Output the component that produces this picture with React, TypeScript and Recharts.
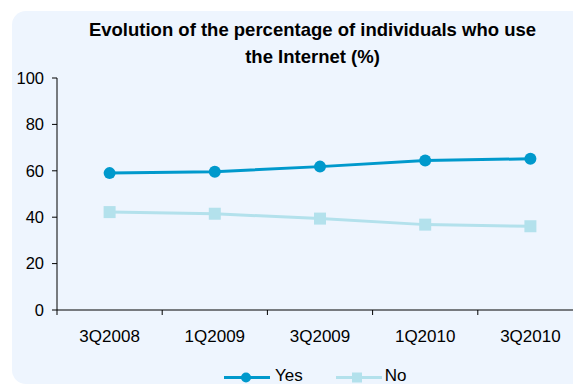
import React from "react";
import { LineChart, Line, XAxis, YAxis } from "recharts";

const quarters = ["3Q2008", "1Q2009", "3Q2009", "1Q2010", "3Q2010"];
const yesValues = [59, 59.6, 61.8, 64.4, 65.2];
const noValues = [42.2, 41.5, 39.4, 36.8, 36.1];
const yTicks = [0, 20, 40, 60, 80, 100];

const YES_COLOR = "#0099CC";
const NO_COLOR = "#B3E1EC";
const FONT = "'Liberation Sans', Arial, sans-serif";

const data = quarters.map((q, i) => ({ q, yes: yesValues[i], no: noValues[i] }));

// the plot area runs past the right edge of the picture, as in the original
const CHART_W = 600;
const PLOT_LEFT = 57;
const PLOT_RIGHT = 583;
const BAND = (PLOT_RIGHT - PLOT_LEFT) / quarters.length;

// square marker for the "No" series
const SquareDot = (props: any) => {
  const { cx, cy } = props;
  if (cx == null || cy == null) return null;
  return <rect x={cx - 6} y={cy - 6} width={12} height={12} fill={NO_COLOR} />;
};

// label at the band centre, tick mark at the band boundary
const XTick = (props: any) => {
  const { x, y, payload, index } = props;
  const axisY = y - 19.5;
  const last = index === quarters.length - 1;
  return (
    <g>
      <line x1={x - BAND / 2} y1={axisY} x2={x - BAND / 2} y2={axisY + 5} stroke="#000" />
      {last && <line x1={x + BAND / 2} y1={axisY} x2={x + BAND / 2} y2={axisY + 5} stroke="#000" />}
      <text x={x} y={y} dy="0.71em" textAnchor="middle" fill="#000" fontSize={17} fontFamily={FONT}>
        {payload.value}
      </text>
    </g>
  );
};

const ChartLegend = () => (
  <div
    style={{
      position: "absolute",
      left: 224,
      top: 367,
      display: "flex",
      fontFamily: FONT,
      fontSize: 17,
      lineHeight: "17px",
      color: "#000",
    }}
  >
    <svg width={46} height={17}>
      <line x1={0} y1={10.5} x2={46} y2={10.5} stroke={YES_COLOR} strokeWidth={3} />
      <circle cx={22} cy={10.5} r={5} fill={YES_COLOR} />
    </svg>
    <span style={{ marginLeft: 5, marginRight: 33 }}>Yes</span>
    <svg width={46} height={17}>
      <line x1={0} y1={10.5} x2={46} y2={10.5} stroke={NO_COLOR} strokeWidth={3} />
      <rect x={16} y={5.5} width={10} height={10} fill={NO_COLOR} />
    </svg>
    <span style={{ marginLeft: 3 }}>No</span>
  </div>
);

export default function App() {
  return (
    <div style={{ position: "absolute", left: 0, top: 0, width: 573, height: 385, overflow: "hidden", background: "#fff" }}>
      <div
        style={{
          position: "absolute",
          left: 12,
          top: 11,
          width: 600,
          height: 373,
          borderRadius: 14,
          background: "#EEF5FE",
        }}
      />
      <div
        style={{
          position: "absolute",
          left: 0,
          width: 625,
          top: 17,
          textAlign: "center",
          fontFamily: FONT,
          fontWeight: "bold",
          fontSize: 18.5,
          lineHeight: "26.5px",
        }}
      >
        Evolution of the percentage of individuals who use
        <br />
        the Internet (%)
      </div>
      <div style={{ position: "absolute", left: 0, top: 0 }}>
        <LineChart width={CHART_W} height={385} data={data} margin={{ top: 78, right: CHART_W - PLOT_RIGHT, bottom: 0, left: 0 }}>
          <XAxis
            dataKey="q"
            axisLine={{ stroke: "#000" }}
            tickLine={false}
            tick={<XTick />}
            tickSize={5}
            tickMargin={14.5}
            padding={{ left: BAND / 2, right: BAND / 2 }}
            interval={0}
            height={75}
          />
          <YAxis
            domain={[0, 100]}
            ticks={yTicks}
            axisLine={{ stroke: "#000" }}
            tickLine={{ stroke: "#000" }}
            tick={{ fill: "#000", fontSize: 16.5, fontFamily: FONT }}
            tickSize={5}
            tickMargin={8}
            width={PLOT_LEFT}
          />
          <Line
            dataKey="no"
            name="No"
            stroke={NO_COLOR}
            strokeWidth={3}
            dot={<SquareDot />}
            isAnimationActive={false}
          />
          <Line
            dataKey="yes"
            name="Yes"
            stroke={YES_COLOR}
            strokeWidth={3}
            dot={{ r: 6, fill: YES_COLOR, stroke: YES_COLOR, strokeWidth: 0 }}
            isAnimationActive={false}
          />
        </LineChart>
      </div>
      <ChartLegend />
    </div>
  );
}
